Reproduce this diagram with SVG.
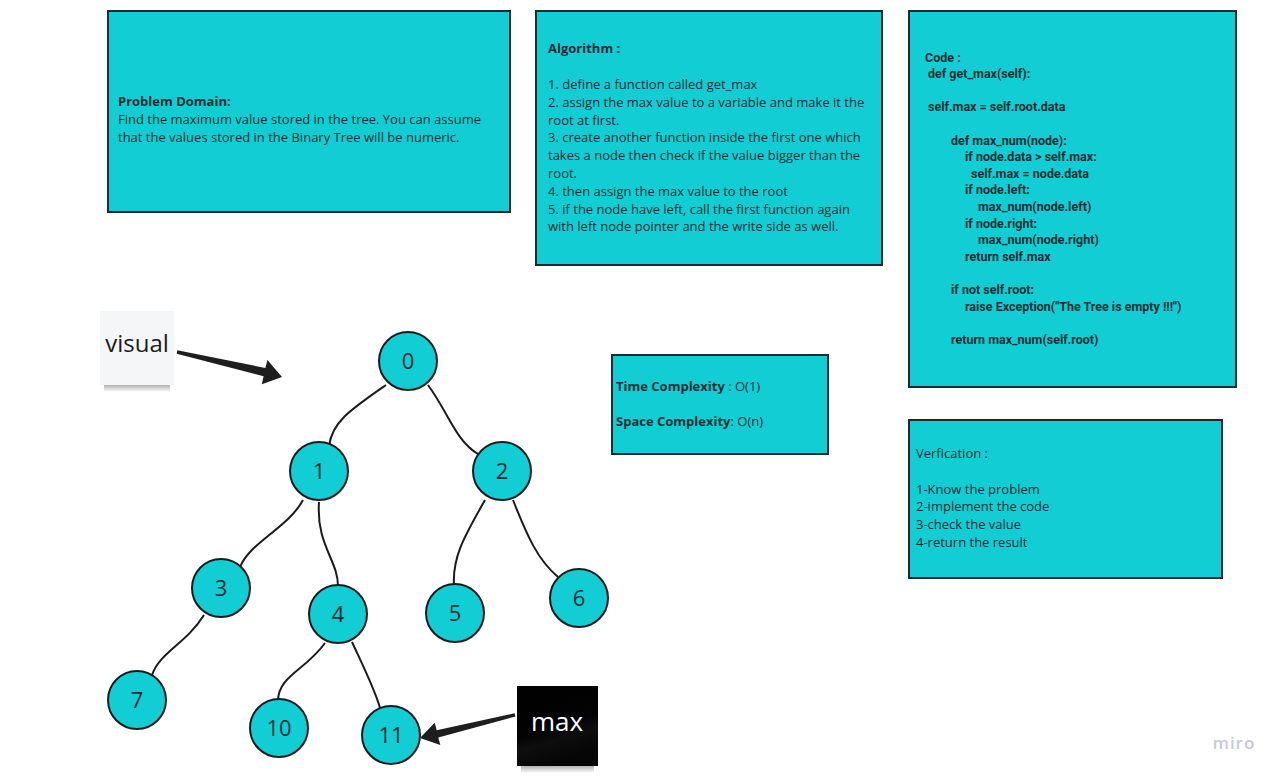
<svg xmlns="http://www.w3.org/2000/svg" width="1283" height="779" viewBox="0 0 1283 779">
<defs>
<style>
.box{fill:#13cdd4;stroke:#1b2b30;stroke-width:2}
.t{font-family:"Open Sans","Liberation Sans",sans-serif;font-size:13px;fill:#0f2e33}
.b{font-weight:bold}
.code{font-family:"Liberation Sans Narrow","Roboto","Liberation Sans",sans-serif;font-size:12.5px;font-weight:bold;fill:#0f2e33}
.node{fill:#13cdd4;stroke:#1b1b1b;stroke-width:2}
.nl{font-family:"Open Sans","Liberation Sans",sans-serif;font-size:22px;fill:#1b2b30;text-anchor:middle}
.edge{fill:none;stroke:#1b1b1b;stroke-width:2}
.arrow{fill:#1e1e1e}
</style>
<linearGradient id="sh" x1="0" y1="0" x2="0" y2="1">
<stop offset="0" stop-color="#000" stop-opacity="0.35"/>
<stop offset="1" stop-color="#000" stop-opacity="0"/>
</linearGradient>
<linearGradient id="blk" x1="0" y1="0" x2="0.3" y2="1">
<stop offset="0" stop-color="#000"/>
<stop offset="0.6" stop-color="#030303"/>
<stop offset="0.75" stop-color="#0e0e0e"/>
<stop offset="1" stop-color="#060606"/>
</linearGradient>
</defs>
<rect width="1283" height="779" fill="#ffffff"/>

<g id="problem-domain">
<rect class="box" x="108" y="11" width="402" height="201"/>
<text class="t" x="118" y="106"><tspan class="b">Problem Domain:</tspan><tspan x="118" dy="18">Find the maximum value stored in the tree. You can assume</tspan><tspan x="118" dy="18">that the values stored in the Binary Tree will be numeric.</tspan></text>
</g>

<g id="algorithm">
<rect class="box" x="536" y="11" width="346" height="254"/>
<text class="t" x="548" y="53"><tspan class="b">Algorithm :</tspan>
<tspan x="548" y="89">1. define a function called get_max</tspan>
<tspan x="548" y="106.8">2. assign the max value to a variable and make it the</tspan>
<tspan x="548" y="124.6">root at first.</tspan>
<tspan x="548" y="142.4">3. create another function inside the first one which</tspan>
<tspan x="548" y="160.2">takes a node then check if the value bigger than the</tspan>
<tspan x="548" y="178">root.</tspan>
<tspan x="548" y="195.8">4. then assign the max value to the root</tspan>
<tspan x="548" y="213.6">5. if the node have left, call the first function again</tspan>
<tspan x="548" y="231.4">with left node pointer and the write side as well.</tspan></text>
</g>

<g id="code">
<rect class="box" x="909" y="11" width="327" height="376"/>
<text class="code">
<tspan x="925" y="61.5">Code :</tspan>
<tspan x="928" y="78.1">def get_max(self):</tspan>
<tspan x="928" y="111.3">self.max = self.root.data</tspan>
<tspan x="951" y="144.5">def max_num(node):</tspan>
<tspan x="965" y="161.1">if node.data &gt; self.max:</tspan>
<tspan x="971" y="177.7">self.max = node.data</tspan>
<tspan x="965" y="194.3">if node.left:</tspan>
<tspan x="978" y="210.9">max_num(node.left)</tspan>
<tspan x="965" y="227.5">if node.right:</tspan>
<tspan x="978" y="244.1">max_num(node.right)</tspan>
<tspan x="965" y="260.7">return self.max</tspan>
<tspan x="951" y="293.9">if not self.root:</tspan>
<tspan x="965" y="310.5">raise Exception("The Tree is empty !!!")</tspan>
<tspan x="951" y="343.7">return max_num(self.root)</tspan>
</text>
</g>

<g id="complexity">
<rect class="box" x="612" y="355" width="216" height="99"/>
<text class="t" x="616" y="391"><tspan class="b">Time Complexity</tspan> : O(1)</text>
<text class="t" x="616" y="426"><tspan class="b">Space Complexity</tspan>: O(n)</text>
</g>

<g id="verification">
<rect class="box" x="909" y="420" width="313" height="158"/>
<text class="t" x="916" y="457.5">Verfication :<tspan x="916" y="493.5">1-Know the problem</tspan><tspan x="916" y="511.3">2-implement the code</tspan><tspan x="916" y="529.1">3-check the value</tspan><tspan x="916" y="546.9">4-return the result</tspan></text>
</g>

<g id="connectors">
<path class="edge" d="M386,385 C350,410 332,422 329,446"/>
<path class="edge" d="M428,385 C448,412 455,440 478,454"/>
<path class="edge" d="M303,500 C288,528 250,542 240,567"/>
<path class="edge" d="M319,502 C316,545 338,560 338,586"/>
<path class="edge" d="M485,500 C466,534 452,556 454,586"/>
<path class="edge" d="M513,500 C528,538 538,560 558,577"/>
<path class="edge" d="M204,615 C186,644 160,652 152,675"/>
<path class="edge" d="M325,643 C306,670 278,676 278,701"/>
<path class="edge" d="M352,642 C364,668 375,690 380,708"/>
<polygon class="arrow" points="176.7,353.8 263.6,376.2 261.8,384.2 282,377 267.4,360.1 265.4,368 177.3,350.2"/>
<polygon class="arrow" points="515.4,716.6 438.3,737.4 440.3,745 420,738 434.7,722.8 436.7,730.2 514.6,713.2"/>
</g>

<g id="node-0"><circle class="node" cx="408" cy="361" r="29"/><text class="nl" x="408" y="369">0</text></g>
<g id="node-1"><circle class="node" cx="319" cy="471" r="29"/><text class="nl" x="319" y="479">1</text></g>
<g id="node-2"><circle class="node" cx="502" cy="471" r="29"/><text class="nl" x="502" y="479">2</text></g>
<g id="node-3"><circle class="node" cx="221" cy="588" r="29"/><text class="nl" x="221" y="596">3</text></g>
<g id="node-4"><circle class="node" cx="338" cy="614" r="29"/><text class="nl" x="338" y="622">4</text></g>
<g id="node-5"><circle class="node" cx="455" cy="613" r="29"/><text class="nl" x="455" y="621">5</text></g>
<g id="node-6"><circle class="node" cx="579" cy="598" r="29"/><text class="nl" x="579" y="606">6</text></g>
<g id="node-7"><circle class="node" cx="137" cy="700" r="29"/><text class="nl" x="137" y="708">7</text></g>
<g id="node-10"><circle class="node" cx="279" cy="728" r="29"/><text class="nl" x="279" y="736">10</text></g>
<g id="node-11"><circle class="node" cx="391" cy="735" r="29"/><text class="nl" x="391" y="743">11</text></g>

<g id="visual-note">
<rect x="104" y="384" width="66" height="8" fill="url(#sh)"/>
<rect x="100" y="311" width="74" height="74" fill="#f5f6f8"/>
<text x="137" y="352" text-anchor="middle" font-family="'Open Sans','Liberation Sans',sans-serif" font-size="24" fill="#1b1b1b">visual</text>
</g>

<g id="max-note">
<rect x="521" y="765" width="73" height="8" fill="url(#sh)"/>
<rect x="517" y="686" width="81" height="80" fill="url(#blk)"/>
<text x="557" y="731" text-anchor="middle" font-family="'Open Sans','Liberation Sans',sans-serif" font-size="26" fill="#ffffff">max</text>
</g>

<text x="1234" y="749" text-anchor="middle" font-family="'Open Sans','Liberation Sans',sans-serif" font-size="17" font-weight="600" fill="#c8c9d2" letter-spacing="1">miro</text>
</svg>
